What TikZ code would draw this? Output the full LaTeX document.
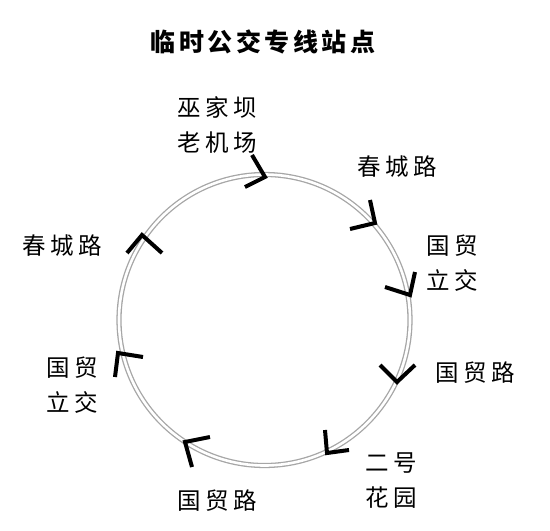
\documentclass[tikz,border=0pt]{standalone}
\usepackage{fontspec}
\newfontfamily\cjk{Noto Sans CJK SC}[LetterSpace=20]
\newfontfamily\cjktitle{Noto Sans CJK SC}[LetterSpace=14]
\begin{document}
\begin{tikzpicture}[x=1pt,y=-1pt,
  ring/.style={draw=gray!70, line width=1.3pt, double=white, double distance=2.6pt},
  chev/.style={draw=black, line width=4pt, line join=miter},
  lbl/.style={font=\cjk\fontsize{23.5}{35}\selectfont, align=center, inner sep=0pt, text=black},
  ttl/.style={font=\cjktitle\bfseries\fontsize{25}{30}\selectfont, inner sep=0pt}]
\useasboundingbox (0,0) rectangle (550,531);
\fill[white] (0,0) rectangle (550,531);
% title
\node[ttl] (title) at (263,42) {临时公交专线站点};
% route
\coordinate (c) at (264.5,320);
\draw[ring] (c) circle[radius=145.5];
% station markers (apex on the ring, pointing clockwise)
\draw[chev] (252,155) -- (265,177) -- (245,187);
\draw[chev] (370,200) -- (375,223) -- (350,229);
\draw[chev] (415,272) -- (410,295) -- (385,287);
\draw[chev] (380,365) -- (397,382) -- (415,365);
\draw[chev] (325,430) -- (327,453) -- (349,450);
\draw[chev] (210,437) -- (185,442) -- (192,467);
\draw[chev] (143,357) -- (118,353) -- (115,377);
\draw[chev] (127,253) -- (142,235) -- (162,253);
% labels
\node[lbl] (s1) at (217,125) {巫家坝\\老机场};
\node[lbl] (s2) at (397,167) {春城路};
\node[lbl] (s3) at (452,263) {国贸\\立交};
\node[lbl] (s4) at (475,373) {国贸路};
\node[lbl] (s5) at (391,481) {二号\\花园};
\node[lbl] (s6) at (217,501) {国贸路};
\node[lbl] (s7) at (72,385) {国贸\\立交};
\node[lbl] (s8) at (62,246) {春城路};
\end{tikzpicture}
\end{document}
